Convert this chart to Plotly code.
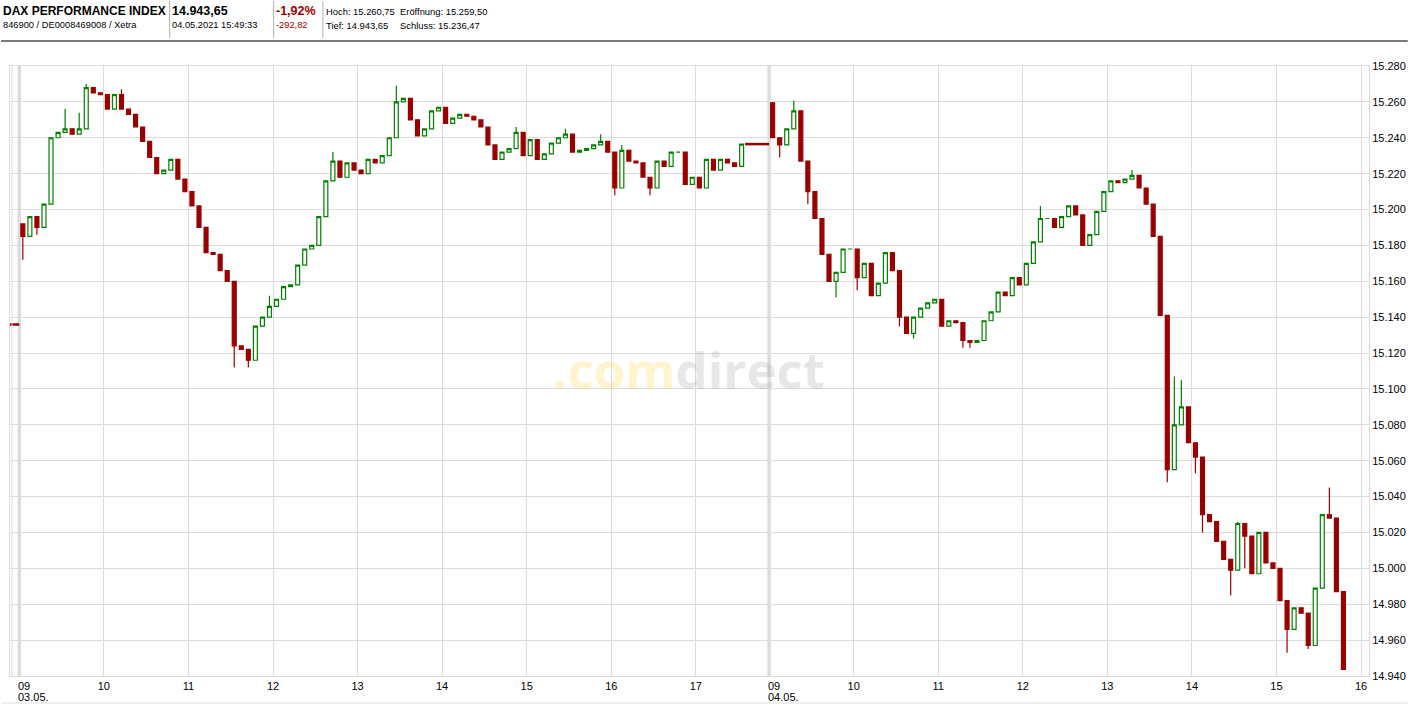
import plotly.graph_objects as go

# ---------------- data ----------------
SLOT_MIN = 5            # candle length in minutes
DAY2_OFFSET = 532       # compressed minutes from 03.05. 09:00 to 04.05. 09:00 on the chart

prev_close_3004 = 15135.91
day1_open = 15192.0
day1_close = [
    15185, 15196, 15190, 15203, 15240, 15243, 15245, 15242, 15245, 15268,
    15265, 15264, 15256, 15264, 15256, 15253, 15246, 15238, 15229, 15220,
    15222, 15228, 15217, 15210, 15202, 15190, 15176, 15175, 15166, 15160,
    15124, 15122, 15116, 15135, 15140, 15146, 15150, 15157, 15158, 15169,
    15178, 15180, 15196, 15216, 15227, 15218, 15226, 15222, 15220, 15228,
    15226, 15230, 15240, 15260, 15262, 15250, 15241, 15245, 15255, 15257,
    15248, 15251, 15253, 15252, 15250, 15246, 15236, 15228, 15232, 15234,
    15243, 15230, 15239, 15228, 15231, 15237, 15240, 15242, 15232, 15233,
    15234, 15236, 15238, 15232, 15212, 15233, 15227, 15226, 15218, 15212,
    15227, 15224, 15232, 15232, 15214, 15218, 15212, 15228, 15222, 15228,
    15226, 15224, 15236.47,
]
day1_high_wicks = {6: 15256, 8: 15254, 9: 15270, 14: 15267, 35: 15152, 44: 15232,
                   53: 15269, 70: 15246, 77: 15245, 82: 15242, 85: 15236}
day1_low_wicks = {0: 15172, 2: 15186, 30: 15112, 32: 15112, 84: 15208, 89: 15208}

day2_open = 15259.50
day2_close = [
    15240, 15236, 15245, 15255, 15227, 15210, 15195, 15175, 15160, 15165,
    15178, 15178, 15162, 15170, 15152, 15159, 15176, 15166, 15140, 15131,
    15140, 15145, 15148, 15150, 15135, 15138, 15137, 15127, 15126, 15127,
    15138, 15143, 15154, 15152, 15162, 15158, 15170, 15182, 15195, 15195,
    15190, 15196, 15202, 15197, 15180, 15186, 15199, 15210, 15216, 15215,
    15217, 15219, 15212, 15203, 15185, 15141, 15055, 15080, 15090, 15070,
    15062, 15030, 15026, 15015, 15005, 14999, 15025, 15018, 14997, 15020,
    15003, 15000, 14982, 14966, 14978, 14975, 14957, 14989, 15030, 15028,
    14987, 14943.65,
]
day2_high_wicks = {0: 15260, 3: 15260.75, 38: 15202, 51: 15222, 57: 15107, 58: 15105,
                   66: 15026, 79: 15045}
day2_low_wicks = {1: 15229, 5: 15203, 9: 15151, 12: 15155, 18: 15135, 20: 15128,
                  27: 15123, 28: 15123, 56: 15048, 60: 15053, 61: 15020, 65: 14985,
                  67: 15000, 73: 14953, 76: 14955}

day1_hours = ["09", "10", "11", "12", "13", "14", "15", "16", "17"]
day2_hours = ["09", "10", "11", "12", "13", "14", "15", "16"]
day_labels = ["03.05.", "04.05."]
y_ticks = list(range(14940, 15281, 20))

header = {
    "name": "DAX PERFORMANCE INDEX",
    "ids": "846900 / DE0008469008 / Xetra",
    "last": "14.943,65",
    "time": "04.05.2021 15:49:33",
    "pct": "-1,92%",
    "abs": "-292,82",
    "hoch": "Hoch: 15.260,75",
    "eroeff": "Eröffnung: 15.259,50",
    "tief": "Tief: 14.943,65",
    "schluss": "Schluss: 15.236,47",
}

# ---------------- build ----------------
def build(open0, closes, hi, lo, offset):
    xs, o, h, l = [], [], [], []
    prev = open0
    for k, c in enumerate(closes):
        o.append(prev)
        h.append(max(prev, c, hi.get(k, c)))
        l.append(min(prev, c, lo.get(k, c)))
        xs.append(offset + SLOT_MIN * k + SLOT_MIN / 2)
        prev = c
    return xs, o, h, l

x1, o1, h1, l1 = build(day1_open, day1_close, day1_high_wicks, day1_low_wicks, 0)
x2, o2, h2, l2 = build(day2_open, day2_close, day2_high_wicks, day2_low_wicks, DAY2_OFFSET)

RED = "#990000"
GREEN = "#008000"
GRID = "#dcdcdc"
FONT = "Liberation Sans"

W, H = 1415, 704
ML, MR, MT, MB = 9, 40, 66, 28
PW, PH = W - ML - MR, H - MT - MB
x_left = -6.6
x_right = x_left + PW / (85 / 60)

def px(p):  # screen px -> paper x
    return (p - ML) / PW

def py(p):  # screen px -> paper y
    return (H - MB - p) / PH

fig = go.Figure()
fig.add_trace(go.Candlestick(
    x=x1 + x2, open=o1 + o2, high=h1 + h2, low=l1 + l2, close=day1_close + day2_close,
    increasing=dict(line=dict(color=GREEN, width=1.2), fillcolor="white"),
    decreasing=dict(line=dict(color=RED, width=1.2), fillcolor=RED),
    whiskerwidth=0, hoverinfo="skip", showlegend=False,
))
# previous-close markers
fig.add_trace(go.Scatter(x=[x_left, 0], y=[prev_close_3004] * 2, mode="lines",
                         line=dict(color=RED, width=2.5), hoverinfo="skip", showlegend=False))
fig.add_trace(go.Scatter(x=[SLOT_MIN * len(day1_close), DAY2_OFFSET], y=[day1_close[-1]] * 2,
                         mode="lines", line=dict(color=RED, width=2.5),
                         hoverinfo="skip", showlegend=False))

tickvals = [60 * i for i in range(len(day1_hours))] + \
           [DAY2_OFFSET + 60 * i for i in range(len(day2_hours))]
ticktext = [("" if i == 0 else h) for i, h in enumerate(day1_hours)] + \
           [("" if i == 0 else h) for i, h in enumerate(day2_hours)]

shapes = []
for xd in (0, DAY2_OFFSET):
    shapes.append(dict(type="line", xref="x", yref="paper", x0=xd, x1=xd, y0=0, y1=1,
                       line=dict(color=GRID, width=3.5), layer="between"))
# header separators and lines
for sx in (169.5, 274, 323.5):
    shapes.append(dict(type="line", xref="paper", yref="paper", x0=px(sx), x1=px(sx),
                       y0=py(1), y1=py(38), line=dict(color="#b0b0b0", width=1)))
shapes.append(dict(type="line", xref="paper", yref="paper", x0=px(0), x1=px(1414),
                   y0=py(41), y1=py(41), line=dict(color="#7a7a7a", width=2)))
shapes.append(dict(type="line", xref="paper", yref="paper", x0=px(0), x1=px(1414),
                   y0=py(703), y1=py(703), line=dict(color="#dddddd", width=1)))
shapes.append(dict(type="line", xref="paper", yref="paper", x0=px(11), x1=px(11),
                   y0=0, y1=1, line=dict(color=GRID, width=1)))

ann = []
def text(x, y, s, size=10, bold=False, color="#000000"):
    ann.append(dict(xref="paper", yref="paper", x=px(x - 2), y=py(y), text=(f"<b>{s}</b>" if bold else s),
                    showarrow=False, xanchor="left", yanchor="middle", borderpad=0,
                    font=dict(family=FONT, size=size, color=color)))

text(3, 10.5, header["name"], 12, True)
text(3, 25.5, header["ids"], 9.3)
text(173, 10.5, header["last"], 12.5, True)
text(173, 25.5, header["time"], 9.3)
text(277, 10.5, header["pct"], 12.5, True, "#a00000")
text(277, 25.5, header["abs"], 9.3, False, "#a00000")
text(328, 11, header["hoch"], 9.4)
text(402, 11, header["eroeff"], 9.4)
text(328, 25.5, header["tief"], 9.4)
text(402, 25.5, header["schluss"], 9.4)

for xd, lab in zip((0, DAY2_OFFSET), day_labels):
    ann.append(dict(xref="x", yref="paper", x=xd, y=py(685.5), text="09", showarrow=False,
                    xanchor="left", yanchor="middle", xshift=-2, borderpad=0,
                    font=dict(family=FONT, size=11, color="#000")))
    ann.append(dict(xref="x", yref="paper", x=xd, y=py(696.5), text=lab, showarrow=False,
                    xanchor="left", yanchor="middle", xshift=-2, borderpad=0,
                    font=dict(family=FONT, size=11, color="#000")))

# watermark
ann.append(dict(xref="paper", yref="paper", x=px(691), y=py(369),
                text="<b><span style='color:rgba(255,214,80,0.28)'>.com</span>"
                     "<span style='color:rgba(160,160,160,0.25)'>direct</span></b>",
                showarrow=False, xanchor="center", yanchor="middle",
                font=dict(family="Open Sans", size=51)))

fig.update_layout(
    width=W, height=H, autosize=False,
    margin=dict(l=ML, r=MR, t=MT, b=MB),
    paper_bgcolor="white", plot_bgcolor="white",
    boxgap=0.2,
    shapes=shapes, annotations=ann,
    xaxis=dict(range=[x_left, x_right], tickvals=tickvals, ticktext=ticktext,
               showgrid=True, gridcolor=GRID, gridwidth=1, zeroline=False,
               showline=True, linecolor=GRID, mirror=True, ticks="",
               rangeslider=dict(visible=False), fixedrange=True,
               tickfont=dict(family=FONT, size=11, color="#000")),
    yaxis=dict(range=[14940, 15280], side="right", tickvals=y_ticks,
               ticktext=[f"{v:,}".replace(",", ".") for v in y_ticks],
               showgrid=True, gridcolor=GRID, gridwidth=1, zeroline=False,
               showline=True, linecolor=GRID, mirror=True, ticks="",
               tickfont=dict(family=FONT, size=11, color="#000")),
    font=dict(family=FONT),
)

fig.write_html("out.html", config={"displayModeBar": False},
               post_script="document.body.style.margin='0';")
